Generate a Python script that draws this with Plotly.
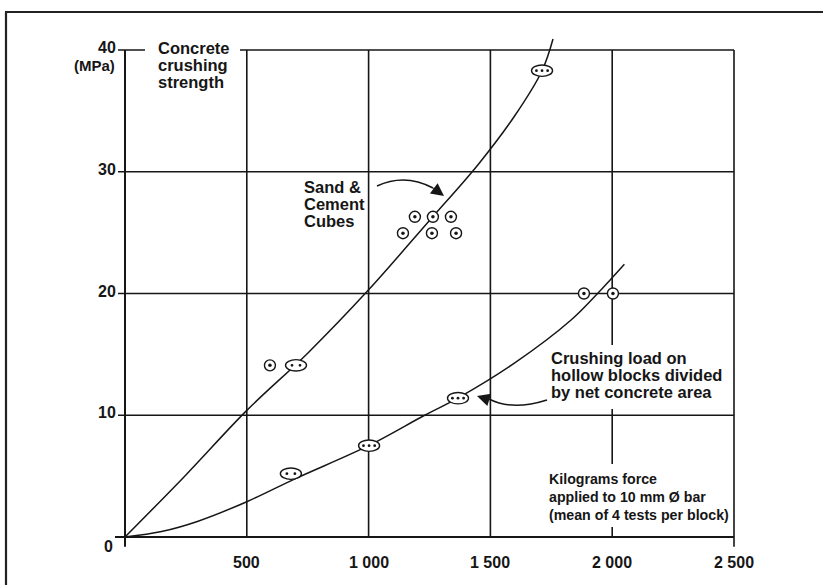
import plotly.graph_objects as go

# ---------------- data ----------------
# Sand & cement cubes curve (kgf on 10 mm bar vs MPa)
cube_curve_x = [0, 250, 500, 750, 1000, 1250, 1450, 1600, 1712, 1757]
cube_curve_y = [0, 5.1, 10.4, 15.1, 20.3, 26.0, 30.6, 34.6, 38.3, 40.9]

# Hollow blocks curve (crushing load / net concrete area)
block_curve_x = [0, 150, 300, 500, 700, 1000, 1230, 1370, 1600, 1830, 1940, 2050]
block_curve_y = [0, 0.45, 1.3, 2.9, 4.8, 7.5, 10.0, 11.45, 14.3, 17.8, 20.0, 22.4]

# single test results (circle with one dot)
single_x = [595, 1190, 1264, 1338, 1141, 1260, 1359, 1884, 2003]
single_y = [14.1, 26.3, 26.3, 26.3, 24.95, 24.95, 24.95, 20.0, 20.0]

# grouped results (oval with 2 or 3 dots)
group_x = [702, 1712, 681, 1002, 1367]
group_y = [14.1, 38.3, 5.2, 7.5, 11.4]
group_n = [2, 3, 2, 3, 3]

x_ticks = [500, 1000, 1500, 2000, 2500]
x_tick_text = ["500", "1 000", "1 500", "2 000", "2 500"]
y_ticks = [10, 20, 30, 40]
y_tick_text = ["10", "20", "30", "40"]

# ---------------- layout geometry ----------------
W, H = 823, 585
ML, MR, MT, MB = 115, 74, 10, 36
PX0, PX_END = 125.0, 734.0      # pixel of x=0 and x=2500
PY0, PY_40 = 537.0, 50.0        # pixel of y=0 and y=40
kx = (PX_END - PX0) / 2500.0
ky = (PY0 - PY_40) / 40.0
x_min = -(PX0 - ML) / kx
x_max = x_min + (W - ML - MR) / kx
y_min = -((H - MB) - PY0) / ky
y_max = (PY0 - MT) / ky


def px2x(p):
    return (p - PX0) / kx


def px2y(p):
    return (PY0 - p) / ky


def x2px(v):
    return PX0 + v * kx


def y2px(v):
    return PY0 - v * ky


def pxp(p):
    return (p - ML) / (W - ML - MR)


def pyp(p):
    return ((H - MB) - p) / (H - MT - MB)


INK = "#161616"
BOLD = "Liberation Sans, Arial, Helvetica, sans-serif"

fig = go.Figure()

fig.add_trace(go.Scatter(x=cube_curve_x, y=cube_curve_y, mode="lines",
                         line=dict(color=INK, width=1.5, shape="spline"),
                         showlegend=False, hoverinfo="skip"))
fig.add_trace(go.Scatter(x=block_curve_x, y=block_curve_y, mode="lines",
                         line=dict(color=INK, width=1.5, shape="spline"),
                         showlegend=False, hoverinfo="skip"))
fig.add_trace(go.Scatter(x=single_x, y=single_y, mode="markers",
                         marker=dict(symbol="circle", size=11, color="white",
                                     line=dict(color=INK, width=1.4)),
                         showlegend=False, hoverinfo="skip"))
fig.add_trace(go.Scatter(x=single_x, y=single_y, mode="markers",
                         marker=dict(symbol="circle", size=3.5, color=INK,
                                     line=dict(width=0)),
                         showlegend=False, hoverinfo="skip"))

shapes = []
line_style = dict(color=INK, width=1.6)
# vertical grid lines
for xv in x_ticks:
    y_start = -0.8 if xv == x_ticks[-1] else 0
    shapes.append(dict(type="line", xref="x", yref="y", x0=xv, x1=xv,
                       y0=y_start, y1=y_ticks[-1], line=line_style, layer="below"))
# horizontal grid lines
for yv in y_ticks:
    shapes.append(dict(type="line", xref="x", yref="y", x0=px2x(118), x1=x_ticks[-1],
                       y0=yv, y1=yv, line=line_style, layer="below"))
# axes
shapes.append(dict(type="line", xref="x", yref="y", x0=px2x(115), x1=x_ticks[-1],
                   y0=0, y1=0, line=dict(color=INK, width=2), layer="below"))
shapes.append(dict(type="line", xref="x", yref="y", x0=0, x1=0,
                   y0=-0.8, y1=y_ticks[-1], line=dict(color=INK, width=2), layer="below"))


# white boxes behind text blocks (break the grid lines)
def white_box(x0p, x1p, y0p, y1p):
    shapes.append(dict(type="rect", xref="x", yref="y", x0=px2x(x0p), x1=px2x(x1p),
                       y0=px2y(y1p), y1=px2y(y0p), fillcolor="white",
                       line=dict(width=0), layer="above"))


white_box(145, 240, 42, 57)
white_box(545, 726, 345, 409)
white_box(545, 729, 464, 527)

# ovals with dots
for gx, gy, n in zip(group_x, group_y, group_n):
    shapes.append(dict(type="circle", xref="x", yref="y", xsizemode="pixel",
                       ysizemode="pixel", xanchor=gx, yanchor=gy,
                       x0=-10.5, x1=10.5, y0=-5.7, y1=5.7, fillcolor="white",
                       line=dict(color=INK, width=1.4), layer="above"))
    offs = [-4.0, 4.0] if n == 2 else [-5.6, 0.0, 5.6]
    for o in offs:
        shapes.append(dict(type="circle", xref="x", yref="y", xsizemode="pixel",
                           ysizemode="pixel", xanchor=gx, yanchor=gy,
                           x0=o - 1.4, x1=o + 1.4, y0=-1.4, y1=1.4,
                           fillcolor=INK, line=dict(width=0), layer="above"))

# curved arrow bodies
shapes.append(dict(type="path", xref="x", yref="y",
                   path="M {:.1f},{:.3f} Q {:.1f},{:.3f} {:.1f},{:.3f}".format(
                       px2x(377), px2y(186), px2x(405), px2y(173), px2x(433), px2y(188)),
                   line=dict(color=INK, width=1.5), layer="above"))
shapes.append(dict(type="path", xref="x", yref="y",
                   path="M {:.1f},{:.3f} Q {:.1f},{:.3f} {:.1f},{:.3f}".format(
                       px2x(547), px2y(400), px2x(512), px2y(411), px2x(489), px2y(399)),
                   line=dict(color=INK, width=1.5), layer="above"))

# outer frame (top and left)
shapes.append(dict(type="line", xref="paper", yref="paper", x0=pxp(5), x1=pxp(823),
                   y0=pyp(12), y1=pyp(12), line=dict(color="#222", width=2.2)))
shapes.append(dict(type="line", xref="paper", yref="paper", x0=pxp(6), x1=pxp(6),
                   y0=pyp(12), y1=pyp(585), line=dict(color="#222", width=2.2)))

annotations = []


def txt(text, px, py, size=16.5, xanchor="left"):
    annotations.append(dict(text="<b>%s</b>" % text, x=pxp(px), y=pyp(py),
                            xref="paper", yref="paper", showarrow=False, xanchor=xanchor,
                            yanchor="middle", borderpad=0,
                            font=dict(family=BOLD, size=size, color=INK)))


# tick labels
for xv, t in zip(x_ticks, x_tick_text):
    txt(t, x2px(xv), 562, size=16, xanchor="center")
for yv, t in zip(y_ticks, y_tick_text):
    txt(t, 117, y2px(yv) - 2.5, size=16, xanchor="right")
txt("0", 108, 546, size=16, xanchor="center")

txt("Concrete", 157, 48)
txt("crushing", 157, 65)
txt("strength", 157, 82)
txt("(MPa)", 116, 65, size=15, xanchor="right")

txt("Sand &", 303, 187)
txt("Cement", 303, 204)
txt("Cubes", 303, 221)

txt("Crushing load on", 550, 358)
txt("hollow blocks divided", 550, 375)
txt("by net concrete area", 550, 392)

txt("Kilograms force", 548, 479, size=14.2)
txt("applied to 10 mm Ø bar", 548, 497, size=14.2)
txt("(mean of 4 tests per block)", 548, 515, size=14.2)

# arrow heads
annotations.append(dict(x=px2x(444), y=px2y(196), xref="x", yref="y", text="",
                        showarrow=True, ax=-12, ay=-9, arrowhead=2, arrowsize=1.6,
                        arrowwidth=1.6, arrowcolor=INK, standoff=0))
annotations.append(dict(x=px2x(477), y=px2y(396), xref="x", yref="y", text="",
                        showarrow=True, ax=13, ay=4, arrowhead=2, arrowsize=1.6,
                        arrowwidth=1.6, arrowcolor=INK, standoff=0))

fig.update_layout(
    width=W, height=H,
    margin=dict(l=ML, r=MR, t=MT, b=MB, pad=0),
    paper_bgcolor="white", plot_bgcolor="white",
    shapes=shapes, annotations=annotations,
    showlegend=False,
    xaxis=dict(range=[x_min, x_max], showgrid=False, zeroline=False, showline=False,
               showticklabels=False, ticks="", fixedrange=True),
    yaxis=dict(range=[y_min, y_max], showgrid=False, zeroline=False, showline=False,
               showticklabels=False, ticks="", fixedrange=True),
)

fig.write_html("out.html", config={"displayModeBar": False},
               post_script="document.body.style.margin='0px';")
